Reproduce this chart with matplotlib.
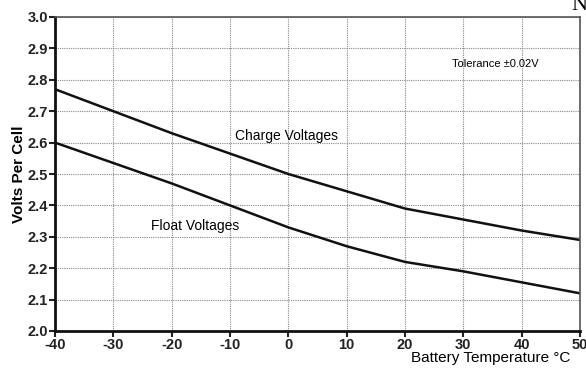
import numpy as np
import matplotlib.pyplot as plt

plt.rcParams['font.family'] = ['Liberation Sans', 'DejaVu Sans']
plt.rcParams['axes.unicode_minus'] = False

# battery temperature (deg C) and volts per cell
temps = [-40, -30, -20, -10, 0, 10, 20, 30, 40, 50]
charge_v = [2.77, 2.70, 2.63, 2.565, 2.50, 2.445, 2.39, 2.355, 2.32, 2.29]
float_v = [2.60, 2.535, 2.47, 2.40, 2.33, 2.27, 2.22, 2.19, 2.155, 2.12]

xticks = np.arange(-40, 51, 10)
yticks = np.arange(2.0, 3.01, 0.1)

fig = plt.figure(figsize=(5.86, 3.70), dpi=100)
ax = fig.add_axes([55 / 586, 1 - 331 / 370, 525 / 586, 314 / 370])

ax.plot(temps, charge_v, color='#111111', lw=1.8)
ax.plot(temps, float_v, color='#111111', lw=1.8)

ax.set_xlim(-40, 50)
ax.set_ylim(2.0, 3.0)
ax.set_xticks(xticks)
ax.set_yticks(yticks)
ax.set_yticklabels(['%.1f' % v for v in yticks])
ax.grid(True, color='#888888', ls=(0, (1, 1)), lw=0.8)

for side in ['left', 'bottom']:
    ax.spines[side].set_linewidth(2)
    ax.spines[side].set_color('#111111')
for side in ['top', 'right']:
    ax.spines[side].set_linewidth(1.2)
    ax.spines[side].set_color('#555555')

ax.tick_params(labelsize=10.5, length=4, width=1.5, colors='#222222', pad=1)
for lab in ax.get_xticklabels() + ax.get_yticklabels():
    lab.set_fontweight('bold')

ax.set_ylabel('Volts Per Cell', fontsize=11, fontweight='bold')
ax.yaxis.set_label_coords(-0.055, 0.5)
ax.set_xlabel('Battery Temperature °C', fontsize=11, labelpad=0)
ax.xaxis.set_label_coords(0.83, -0.065)

ax.text(-9.2, 2.62, 'Charge Voltages', fontsize=10, va='center')
ax.text(-23.5, 2.335, 'Float Voltages', fontsize=10, va='center')
ax.text(28, 2.85, 'Tolerance ±0.02V', fontsize=8, va='center')

fig.text(0.975, 0.985, 'N', fontsize=16, family='Liberation Serif', va='center', ha='left')

fig.savefig('out.png', dpi=100)
